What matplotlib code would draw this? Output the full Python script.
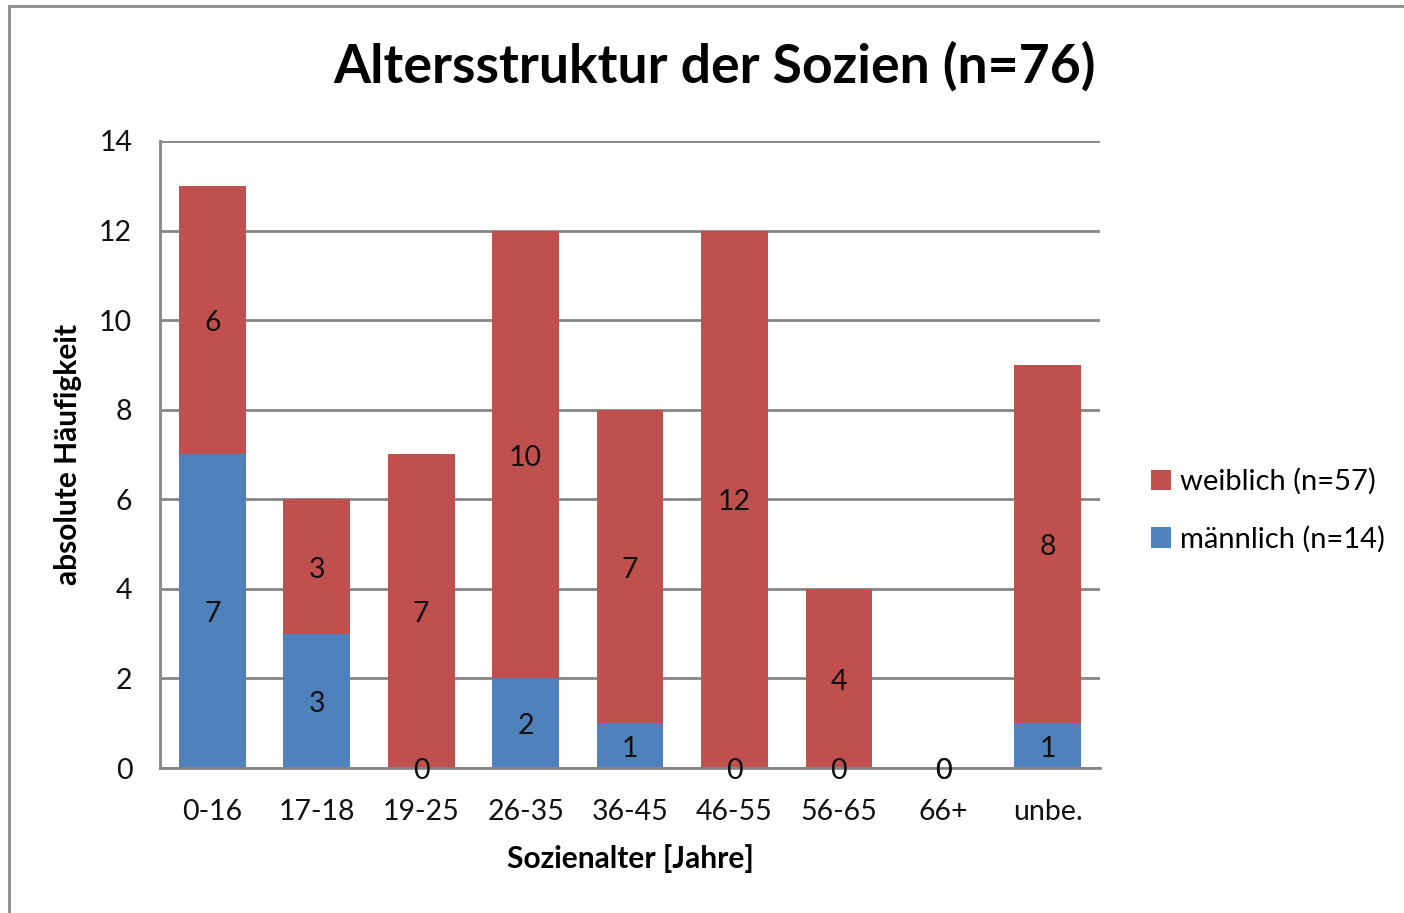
import matplotlib
matplotlib.use('Agg')
import matplotlib.pyplot as plt
import numpy as np
from matplotlib.patches import Rectangle

# Data

CATEGORIES = ['0-16', '17-18', '19-25', '26-35', '36-45', '46-55', '56-65', '66+', 'unbe.']
MAENNLICH = [7, 3, 0, 2, 1, 0, 0, 0, 1]
WEIBLICH = [6, 3, 7, 10, 7, 12, 4, 0, 8]
Y_TICKS = [0, 2, 4, 6, 8, 10, 12, 14]

BLUE = '#4F81BD'
RED = '#C0504D'
GRID = '#868686'

plt.rcParams['font.family'] = ['Lato', 'DejaVu Sans']

fig = plt.figure(figsize=(14.04, 9.13), dpi=100)
ax = fig.add_axes([0.114, 0.1588, 0.6695, 0.6868])

x = np.arange(len(CATEGORIES))
ax.bar(x, MAENNLICH, width=0.64, color=BLUE, label='männlich (n=14)', zorder=3)
ax.bar(x, WEIBLICH, width=0.64, bottom=MAENNLICH, color=RED,
       label='weiblich (n=57)', zorder=3)

# value labels in the middle of each segment
for i in range(len(CATEGORIES)):
    m = MAENNLICH[i]
    w = WEIBLICH[i]
    ax.text(x[i], m / 2 - 0.07, str(m), ha='center', va='center', fontsize=20.5,
            color='#111111', zorder=4)
    ax.text(x[i], m + w / 2 - 0.07, str(w), ha='center', va='center', fontsize=20.5,
            color='#111111', zorder=4)

ax.set_xlim(-0.5, len(CATEGORIES) - 0.5)
ax.set_ylim(0, 14)
ax.set_yticks(Y_TICKS)
ax.set_xticks(x)
ax.set_xticklabels(CATEGORIES)
ax.tick_params(axis='both', length=0, labelsize=20.5, colors='#111111')
ax.tick_params(axis='y', pad=20)
ax.tick_params(axis='x', pad=22)

ax.grid(axis='y', color=GRID, linewidth=2, zorder=0)
for side in ['top', 'right']:
    ax.spines[side].set_visible(False)
ax.spines['left'].set_color(GRID)
ax.spines['left'].set_linewidth(2)
ax.spines['bottom'].set_color(GRID)
ax.spines['bottom'].set_linewidth(2)
ax.spines['bottom'].set_zorder(3.5)

ax.set_xlabel('Sozienalter [Jahre]', fontsize=21.5, fontweight='bold', labelpad=14)
ax.set_ylabel('absolute Häufigkeit', fontsize=21.5, fontweight='bold', labelpad=12)

fig.text(0.509, 0.927, 'Altersstruktur der Sozien (n=76)',
         ha='center', va='center', fontsize=38.5, fontweight='bold')

handles, labels = ax.get_legend_handles_labels()
fig.legend(handles[::-1], labels[::-1], loc='center left',
           bbox_to_anchor=(0.801, 0.441), frameon=False, fontsize=21,
           handlelength=0.7, handleheight=0.7, handletextpad=0.3,
           labelspacing=1.05)

# outer chart border (partly cut off at right and bottom)
fig.patches.append(Rectangle((0.0064, -0.05), 1.2, 1.0434, transform=fig.transFigure,
                             fill=False, edgecolor='#8c8c8c', linewidth=2))

fig.savefig('out.png', dpi=100)
